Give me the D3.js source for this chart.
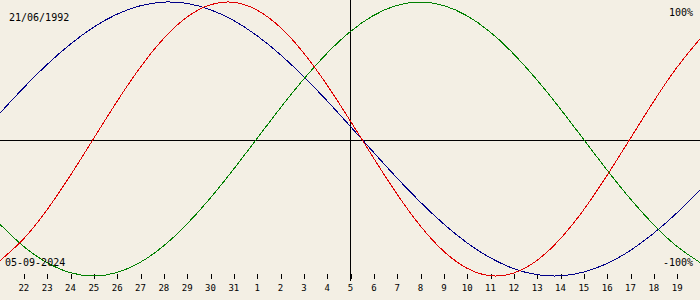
<!DOCTYPE html>
<html>
<head>
<meta charset="utf-8">
<script src="https://cdn.jsdelivr.net/npm/d3@7"></script>
<style>
  html, body { margin: 0; padding: 0; background: #f3efe4; }
  svg { display: block; }
  text { font-family: "DejaVu Sans Mono", monospace; }
</style>
</head>
<body>
<div id="chart"></div>
<script>
// days shown, 21 Aug .. 20 Sep 2024
var days = ["21","22","23","24","25","26","27","28","29","30","31",
            "1","2","3","4","5","6","7","8","9","10",
            "11","12","13","14","15","16","17","18","19","20"];
var todayIndex = 15;

// cycle values per day (-1 .. 1)
var physical = [-0.888,-0.731,-0.520,-0.270,0.000,0.270,0.520,0.731,0.888,0.979,0.998,
                0.942,0.817,0.631,0.398,0.136,-0.136,-0.398,-0.631,-0.817,-0.942,
                -0.998,-0.979,-0.888,-0.731,-0.520,-0.270,0.000,0.270,0.520,0.731];
var emotional = [-0.623,-0.782,-0.901,-0.975,-1.000,-0.975,-0.901,-0.782,-0.623,-0.434,-0.223,
                 0.000,0.223,0.434,0.623,0.782,0.901,0.975,1.000,0.975,0.901,
                 0.782,0.623,0.434,0.223,0.000,-0.223,-0.434,-0.623,-0.782,-0.901];
var intellectual = [0.189,0.372,0.541,0.690,0.815,0.910,0.972,0.999,0.990,0.945,0.866,
                    0.756,0.618,0.458,0.282,0.095,-0.095,-0.282,-0.458,-0.618,-0.756,
                    -0.866,-0.945,-0.990,-0.999,-0.972,-0.910,-0.815,-0.690,-0.541,-0.372];

var birthLabel = "21/06/1992";
var dateLabel = "05-09-2024";
var topLabel = "100%";
var bottomLabel = "-100%";

function init() {
	var w = 700;
	var h = 300;

	var xScale = d3.scaleLinear()
		.domain([0, days.length - 1])
		.range([0, w]);

	var yScale = d3.scaleLinear()
		.domain([-1, 1])
		.range([276, 2]);

	var svg = d3.select("#chart")
		.append("svg")
		.attr("width", w)
		.attr("height", h);

	svg.append("rect")
		.attr("width", w)
		.attr("height", h)
		.attr("fill", "#f3efe4");

	// zero line
	svg.append("line")
		.attr("x1", 0)
		.attr("x2", w)
		.attr("y1", 140.5)
		.attr("y2", 140.5)
		.attr("stroke", "#000")
		.attr("shape-rendering", "crispEdges");

	// day ticks
	var xAxis = d3.axisBottom(xScale)
		.tickValues(d3.range(1, days.length - 1))
		.tickSize(5)
		.tickPadding(6)
		.tickFormat(function(d) { return days[d]; });

	var gx = svg.append("g")
		.attr("transform", "translate(0,274)")
		.call(xAxis);
	gx.select(".domain").remove();
	gx.selectAll("line")
		.attr("transform", "translate(0.5,0)")
		.attr("stroke", "#000")
		.attr("shape-rendering", "crispEdges");
	gx.selectAll("text")
		.attr("font-family", "DejaVu Sans Mono")
		.attr("font-size", 9)
		.attr("fill", "#000");

	// today line
	svg.append("line")
		.attr("x1", xScale(todayIndex) + 0.5)
		.attr("x2", xScale(todayIndex) + 0.5)
		.attr("y1", 0)
		.attr("y2", 281)
		.attr("stroke", "#000")
		.attr("shape-rendering", "crispEdges");

	var line = d3.line()
		.x(function(d, i) { return xScale(i); })
		.y(function(d) { return yScale(d); })
		.curve(d3.curveNatural);

	var series = [
		{ values: intellectual, color: "#000088" },
		{ values: emotional, color: "#008000" },
		{ values: physical, color: "#e00000" }
	];

	svg.selectAll("path.cycle")
		.data(series)
		.enter()
		.append("path")
		.attr("class", "cycle")
		.attr("d", function(d) { return line(d.values); })
		.attr("fill", "none")
		.attr("stroke", function(d) { return d.color; })
		.attr("stroke-width", 1)
		.attr("shape-rendering", "crispEdges");

	svg.append("text")
		.attr("x", 9)
		.attr("y", 20.5)
		.attr("font-size", 10)
		.text(birthLabel);

	svg.append("text")
		.attr("x", 5)
		.attr("y", 266)
		.attr("font-size", 10)
		.text(dateLabel);

	svg.append("text")
		.attr("x", 693)
		.attr("y", 16)
		.attr("font-size", 10)
		.attr("text-anchor", "end")
		.text(topLabel);

	svg.append("text")
		.attr("x", 693)
		.attr("y", 266)
		.attr("font-size", 10)
		.attr("text-anchor", "end")
		.text(bottomLabel);
}

window.onload = init;
</script>
</body>
</html>
